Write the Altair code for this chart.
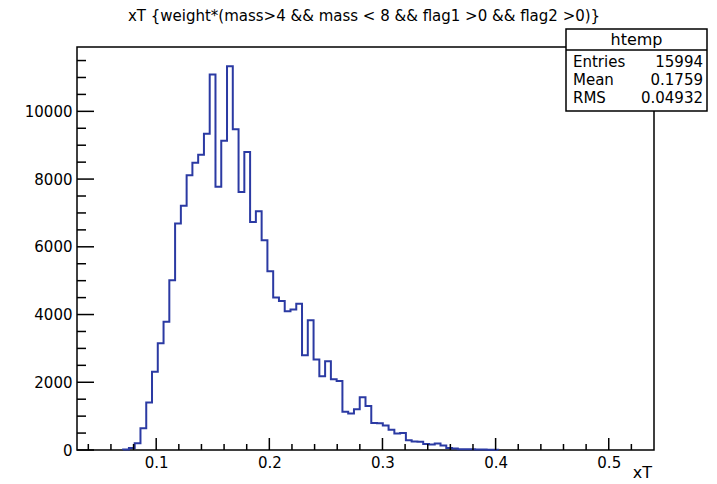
import altair as alt
import pandas as pd
import numpy as np

# ---------------- data ----------------
title_text = "xT {weight*(mass>4 && mass < 8 && flag1 >0 && flag2 >0)}"
x_title = "xT"
stats_name = "htemp"
stats_labels = ["Entries", "Mean", "RMS"]
stats_values = ["15994", "0.1759", "0.04932"]

x_min, x_max = 0.03, 0.54
n_bins = 100
y_max = 11900
first_bin = 8
bin_counts = [
    15, 60, 200, 640, 1400, 2310, 3150, 3790, 5015, 6690,
    7210, 8110, 8480, 8720, 9340, 11090, 7770, 9130, 11330, 9470,
    7620, 8800, 6735, 7050, 6195, 5280, 4500, 4400, 4100, 4150,
    4320, 2800, 3830, 2670, 2180, 2620, 2090, 2040, 1130, 1080,
    1200, 1560, 1300, 800, 790, 720, 600, 490, 500, 290,
    250, 240, 180, 165, 190, 130, 60, 45, 25, 20,
    20, 15, 15, 10, 10,
]
x_major = [0.1, 0.2, 0.3, 0.4, 0.5]
x_minor = [0.04, 0.06, 0.08, 0.12, 0.14, 0.16, 0.18, 0.22, 0.24, 0.26, 0.28,
           0.32, 0.34, 0.36, 0.38, 0.42, 0.44, 0.46, 0.48, 0.52]
y_major = [0, 2000, 4000, 6000, 8000, 10000]
y_minor = [500, 1000, 1500, 2500, 3000, 3500, 4500, 5000, 5500, 6500, 7000,
           7500, 8500, 9000, 9500, 10500, 11000, 11500]

# ---------------- layout ----------------
W, H = 577, 403
FONT = "DejaVu Sans"
LINE = "#2b3aa3"

bw = (x_max - x_min) / n_bins
rows = [(x_min + first_bin * bw, 0.0)]
for i, c in enumerate(bin_counts):
    left = x_min + (first_bin + i) * bw
    rows.append((left, c))
    rows.append((left + bw, c))
rows.append((rows[-1][0], 0.0))
hist = pd.DataFrame(rows, columns=["x", "y"])
hist["o"] = range(len(hist))

xs = alt.Scale(domain=[x_min, x_max], nice=False, zero=False)
ys = alt.Scale(domain=[0, y_max], nice=False)

x_axis = alt.Axis(values=x_major, format=".1f", title=None, ticks=False, tickSize=0,
                  domain=False, grid=False, labelFont=FONT, labelFontSize=15,
                  labelColor="black", labelPadding=17, labelBaseline="alphabetic",
                  labelFlush=False)
y_axis = alt.Axis(values=y_major, format="d", title=None, ticks=False, tickSize=0,
                  domain=False, grid=False, labelFont=FONT, labelFontSize=15,
                  labelColor="black", labelPadding=5, labelBaseline="middle")

line = alt.Chart(hist).mark_line(color=LINE, strokeWidth=2, interpolate="linear").encode(
    x=alt.X("x:Q", scale=xs, axis=x_axis),
    y=alt.Y("y:Q", scale=ys, axis=y_axis),
    order="o:Q",
)

xmaj = alt.Chart(pd.DataFrame({"x": x_major})).mark_rule(color="black", strokeWidth=1.5).encode(
    x=alt.X("x:Q", scale=xs, axis=x_axis), y=alt.value(H), y2=alt.value(H - 12))
xmin_ = alt.Chart(pd.DataFrame({"x": x_minor})).mark_rule(color="black", strokeWidth=1.5).encode(
    x=alt.X("x:Q", scale=xs, axis=x_axis), y=alt.value(H), y2=alt.value(H - 6))
ymaj = alt.Chart(pd.DataFrame({"y": y_major})).mark_rule(color="black", strokeWidth=1.5).encode(
    y=alt.Y("y:Q", scale=ys, axis=y_axis), x=alt.value(0), x2=alt.value(17))
ymin_ = alt.Chart(pd.DataFrame({"y": y_minor})).mark_rule(color="black", strokeWidth=1.5).encode(
    y=alt.Y("y:Q", scale=ys, axis=y_axis), x=alt.value(0), x2=alt.value(9))

title = alt.Chart(pd.DataFrame({"t": [title_text]})).mark_text(
    font=FONT, fontSize=15, align="center", baseline="alphabetic", color="black"
).encode(text="t:N", x=alt.value(287), y=alt.value(-26))

xt = alt.Chart(pd.DataFrame({"t": [x_title]})).mark_text(
    font=FONT, fontSize=16, align="right", baseline="alphabetic", color="black"
).encode(text="t:N", x=alt.value(575), y=alt.value(431))

box = alt.Chart(pd.DataFrame({"a": [0]})).mark_rect(
    fill="white", stroke="black", strokeWidth=1.5
).encode(x=alt.value(489), x2=alt.value(630), y=alt.value(-18), y2=alt.value(64))
sep = alt.Chart(pd.DataFrame({"a": [0]})).mark_rule(color="black", strokeWidth=1.5).encode(
    x=alt.value(489), x2=alt.value(630), y=alt.value(3))
head = alt.Chart(pd.DataFrame({"t": [stats_name]})).mark_text(
    font=FONT, fontSize=16, align="center", baseline="alphabetic", color="black"
).encode(text="t:N", x=alt.value(559.5), y=alt.value(-2))

stat_layers = []
row_y = [19.7, 38, 56.3]
for lab, val, yy in zip(stats_labels, stats_values, row_y):
    stat_layers.append(alt.Chart(pd.DataFrame({"t": [lab]})).mark_text(
        font=FONT, fontSize=15, align="left", baseline="alphabetic", color="black"
    ).encode(text="t:N", x=alt.value(496), y=alt.value(yy)))
    stat_layers.append(alt.Chart(pd.DataFrame({"t": [val]})).mark_text(
        font=FONT, fontSize=15, align="right", baseline="alphabetic", color="black"
    ).encode(text="t:N", x=alt.value(626), y=alt.value(yy)))

chart = alt.layer(
    line, xmaj, xmin_, ymaj, ymin_, title, xt, box, sep, head, *stat_layers
).properties(
    width=W, height=H,
    padding={"left": 77, "top": 47, "right": 63, "bottom": 34},
    autosize=alt.AutoSizeParams(type="none"),
    background="white",
).configure_view(stroke="black", strokeWidth=1.5)

chart.save("out.html", embed_options={"renderer": "svg", "actions": False})
